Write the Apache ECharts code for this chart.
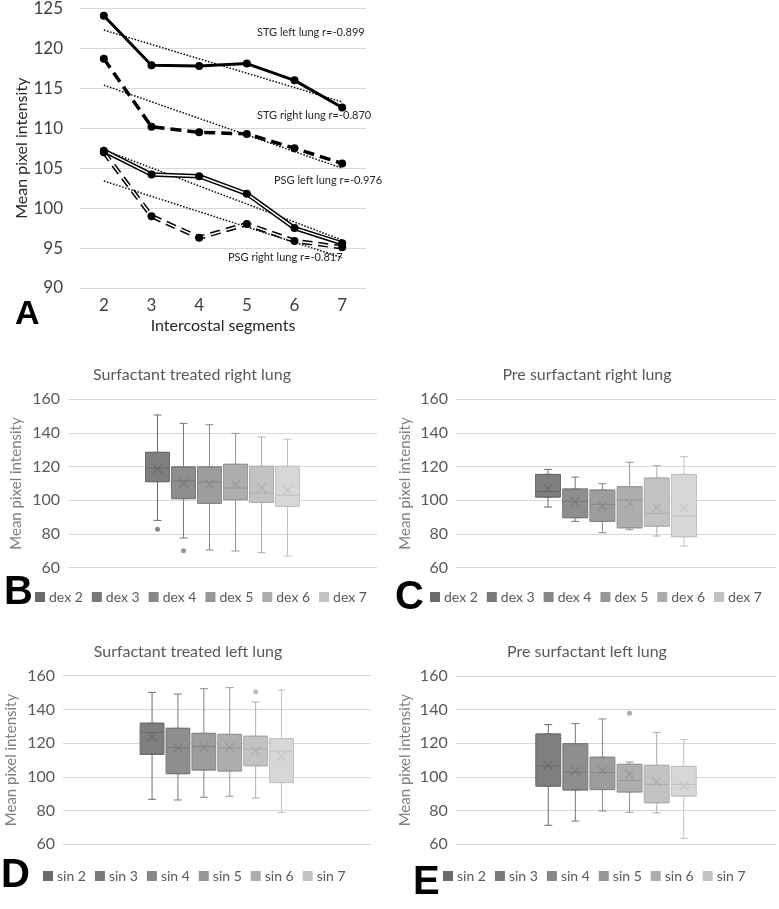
<!DOCTYPE html>
<html><head><meta charset="utf-8">
<script src="https://cdn.jsdelivr.net/npm/echarts@6/dist/echarts.min.js"></script>
<style>html,body{margin:0;padding:0;background:#fff}#c{width:779px;height:909px}</style>
</head><body><div id="c"></div>
<script>
// ---------- Panel A data ----------
const segments = ['2', '3', '4', '5', '6', '7'];
const stgLeft  = [124.1, 117.9, 117.8, 118.1, 116.0, 112.6];
const stgRight = [118.7, 110.2, 109.5, 109.3, 107.5, 105.6];
const psgLeft  = [107.2, 104.2, 104.0, 101.8, 97.5, 95.6];
const psgRight = [107.0, 99.0, 96.3, 98.0, 95.9, 95.1];
// linear trend values at segment 2 and segment 7
const stgLeftTrend  = [122.3, 113.3];
const stgRightTrend = [115.4, 105.0];
const psgLeftTrend  = [107.3, 96.0];
const psgRightTrend = [103.4, 93.8];
const trendLabels = ['STG left lung r=-0.899', 'STG right lung r=-0.870', 'PSG left lung r=-0.976', 'PSG right lung r=-0.817'];

// ---------- Box panels data: [min, Q1, median, Q3, max] ----------
const dexNames = ['dex 2', 'dex 3', 'dex 4', 'dex 5', 'dex 6', 'dex 7'];
const sinNames = ['sin 2', 'sin 3', 'sin 4', 'sin 5', 'sin 6', 'sin 7'];

const stRightBox = [[88.1, 111.1, 119.2, 128.5, 150.7], [77.6, 101.0, 111.5, 119.8, 145.7], [70.5, 98.2, 110.9, 119.8, 144.9],
                    [69.9, 100.4, 107.3, 121.4, 139.8], [68.9, 98.8, 104.3, 120.2, 137.6], [66.9, 96.4, 103.0, 120.2, 136.2]];
const stRightMean = [118.6, 110.1, 109.5, 109.5, 107.5, 105.9];
const stRightOutliers = [[0, 82.9], [1, 70.0]];

const preRightBox = [[96.0, 102.0, 105.3, 115.4, 118.4], [87.5, 89.7, 99.4, 106.7, 113.8], [80.8, 87.5, 97.6, 106.1, 109.9],
                     [82.5, 83.7, 100.2, 108.1, 122.6], [78.8, 84.7, 92.3, 113.2, 120.6], [72.8, 78.4, 90.7, 115.4, 125.9]];
const preRightMean = [107.1, 99.2, 96.6, 98.2, 95.8, 95.6];
const preRightOutliers = [];

const stLeftBox = [[86.7, 113.4, 126.4, 131.8, 150.1], [86.3, 101.9, 117.3, 128.8, 149.1], [87.9, 104.1, 117.9, 125.8, 152.3],
                   [88.5, 103.5, 117.1, 125.2, 152.9], [87.5, 106.6, 116.5, 124.1, 144.4], [78.8, 96.6, 115.2, 122.7, 151.5]];
const stLeftMean = [123.6, 117.3, 117.6, 117.6, 115.5, 112.0];
const stLeftOutliers = [[4, 150.5]];

const preLeftBox = [[71.3, 94.6, 106.5, 125.5, 131.1], [73.8, 92.3, 102.8, 119.8, 131.7], [79.8, 92.5, 102.6, 111.7, 134.5],
                    [79.0, 91.1, 98.0, 107.5, 108.9], [78.6, 84.7, 95.6, 106.9, 126.5], [63.5, 88.7, 95.6, 106.3, 122.2]];
const preLeftMean = [106.9, 103.6, 103.8, 101.6, 97.0, 94.8];
const preLeftOutliers = [[3, 137.8]];

const boxYTicks = { min: 60, max: 160, interval: 20 };

// ---------- styling ----------
const FONT = 'Lato';
const fills   = ['#7f7f7f', '#8e8e8e', '#9d9d9d', '#aeaeae', '#c3c3c3', '#d7d7d7'];
const borders = ['#6a6a6a', '#787878', '#878787', '#979797', '#adadad', '#c2c2c2'];
const GRIDC = '#d9d9d9';

const option = { animation: false, grid: [], xAxis: [], yAxis: [], series: [], legend: [], graphic: [] };

// ---------- Panel A ----------
option.grid.push({ left: 80, top: 8, width: 286, height: 280 });
option.xAxis.push({
  type: 'category', gridIndex: 0, data: segments, boundaryGap: true,
  axisLine: { show: false }, axisTick: { show: false },
  axisLabel: { fontSize: 17, color: '#404040', margin: 9, fontFamily: FONT },
  name: 'Intercostal segments', nameLocation: 'middle', nameGap: 30,
  nameTextStyle: { fontSize: 16, color: '#262626', fontFamily: FONT }
});
option.yAxis.push({
  type: 'value', gridIndex: 0, min: 90, max: 125, interval: 5,
  axisLine: { show: false }, axisTick: { show: false },
  axisLabel: { fontSize: 17, color: '#404040', margin: 17, fontFamily: FONT },
  splitLine: { lineStyle: { color: GRIDC, width: 1 } },
  name: 'Mean pixel intensity', nameLocation: 'middle', nameGap: 47,
  nameTextStyle: { fontSize: 16, color: '#262626', fontFamily: FONT }
});
function trendSeries(vals) {
  return { type: 'line', xAxisIndex: 0, yAxisIndex: 0, data: [[segments[0], vals[0]], [segments[5], vals[1]]],
    symbol: 'none', lineStyle: { color: '#111', width: 1.5, type: [1.6, 1.6] }, z: 2, silent: true };
}
option.series.push(trendSeries(stgLeftTrend), trendSeries(stgRightTrend), trendSeries(psgLeftTrend), trendSeries(psgRightTrend));
const dot = { symbol: 'circle', symbolSize: 8, itemStyle: { color: '#000' } };
option.series.push(Object.assign({ type: 'line', name: 'STG left', data: stgLeft, lineStyle: { color: '#000', width: 3 }, z: 4 }, dot));
option.series.push(Object.assign({ type: 'line', name: 'STG right', data: stgRight, lineStyle: { color: '#000', width: 3.5, type: [11, 6] }, z: 4 }, dot));
option.series.push({ type: 'line', data: psgLeft, symbol: 'none', lineStyle: { color: '#000', width: 4.5 }, z: 3 });
option.series.push(Object.assign({ type: 'line', name: 'PSG left', data: psgLeft, lineStyle: { color: '#fff', width: 1.5 }, z: 4 }, dot));
option.series.push({ type: 'line', data: psgRight, symbol: 'none', lineStyle: { color: '#000', width: 4.5, type: [10, 6] }, z: 3 });
option.series.push(Object.assign({ type: 'line', name: 'PSG right', data: psgRight, lineStyle: { color: '#fff', width: 1.5, type: [10, 6] }, z: 4 }, dot));

const trendLabelPos = [[257, 32], [257, 115], [274, 180], [228, 257]];
trendLabels.forEach((t, i) => option.graphic.push({ type: 'text', x: trendLabelPos[i][0], y: trendLabelPos[i][1], z: 10,
  style: { text: t, font: '11px ' + FONT, fill: '#262626', verticalAlign: 'middle', align: 'left' } }));
option.graphic.push({ type: 'text', x: 15, y: 315,
  style: { text: 'A', font: 'bold 34px "Liberation Sans"', fill: '#000', align: 'left', verticalAlign: 'middle' } });

// ---------- Box panels ----------
const panels = [
  { title: 'Surfactant treated right lung', names: dexNames, box: stRightBox, mean: stRightMean, out: stRightOutliers,
    left: 68, top: 399.3, width: 309, height: 168.4, pitch: 26, titleX: 192, titleY: 375, nameGap: 44, legendX: 35, legendY: 598,
    letter: 'B', letterX: 4, letterY: 593 },
  { title: 'Pre surfactant right lung', names: dexNames, box: preRightBox, mean: preRightMean, out: preRightOutliers,
    left: 456, top: 399.3, width: 320, height: 168.4, pitch: 27.2, titleX: 587, titleY: 375, nameGap: 43, legendX: 430, legendY: 598,
    letter: 'C', letterX: 395, letterY: 598 },
  { title: 'Surfactant treated left lung', names: sinNames, box: stLeftBox, mean: stLeftMean, out: stLeftOutliers,
    left: 63, top: 675.7, width: 307.6, height: 168.6, pitch: 25.9, titleX: 188, titleY: 652, nameGap: 44, legendX: 43, legendY: 877,
    letter: 'D', letterX: 1, letterY: 876 },
  { title: 'Pre surfactant left lung', names: sinNames, box: preLeftBox, mean: preLeftMean, out: preLeftOutliers,
    left: 455.7, top: 676, width: 320.6, height: 168.3, pitch: 27.1, titleX: 587, titleY: 652, nameGap: 43, legendX: 443, legendY: 877,
    letter: 'E', letterX: 413, letterY: 883 }
];

panels.forEach(p => {
  const gi = option.grid.length;
  option.grid.push({ left: p.left, top: p.top, width: p.width, height: p.height });
  option.xAxis.push({ type: 'category', gridIndex: gi, data: [''], show: false });
  option.yAxis.push({
    type: 'value', gridIndex: gi, min: boxYTicks.min, max: boxYTicks.max, interval: boxYTicks.interval,
    axisLine: { show: false }, axisTick: { show: false },
    axisLabel: { fontSize: 16, color: '#595959', margin: 8, fontFamily: FONT },
    splitLine: { lineStyle: { color: GRIDC, width: 1 } },
    name: 'Mean pixel intensity', nameLocation: 'middle', nameGap: p.nameGap,
    nameTextStyle: { fontSize: 15, color: '#808080', fontFamily: FONT }
  });
  option.graphic.push({ type: 'text', x: p.titleX, y: p.titleY,
    style: { text: p.title, font: '16px ' + FONT, fill: '#595959', align: 'center', verticalAlign: 'middle' } });
  option.graphic.push({ type: 'text', x: p.letterX, y: p.letterY,
    style: { text: p.letter, font: 'bold 40px "Liberation Sans"', fill: '#000', align: 'left', verticalAlign: 'middle' } });
  option.legend.push({ left: p.legendX, top: p.legendY - 8, data: p.names, icon: 'rect', itemWidth: 8, itemHeight: 8,
    itemGap: 9, padding: 0, selectedMode: false, textStyle: { fontSize: 14, color: '#595959', fontFamily: FONT } });

  p.names.forEach((nm, k) => {
    const cx = p.left + p.width / 2 + (k - 2.5) * p.pitch;
    const g = option.grid.length;
    option.grid.push({ left: cx - p.pitch / 2, top: p.top, width: p.pitch, height: p.height });
    const xw = option.xAxis.length;
    option.xAxis.push({ type: 'category', gridIndex: g, data: [nm], show: false });
    const xn = option.xAxis.length;
    option.xAxis.push({ type: 'category', gridIndex: g, data: [nm], show: false });
    const yi = option.yAxis.length;
    option.yAxis.push({ type: 'value', gridIndex: g, min: boxYTicks.min, max: boxYTicks.max, show: false });
    const b = p.box[k];
    const st = { color: fills[k], borderColor: borders[k], borderWidth: 1 };
    // whiskers with narrow caps
    option.series.push({ type: 'boxplot', name: nm, xAxisIndex: xn, yAxisIndex: yi, data: [b],
      boxWidth: [8, 8], itemStyle: st, z: 2, silent: true });
    // box (Q1..Q3) with median
    option.series.push({ type: 'boxplot', name: nm, xAxisIndex: xw, yAxisIndex: yi, data: [[b[1], b[1], b[2], b[3], b[3]]],
      boxWidth: [p.pitch * 0.92, p.pitch * 0.92], itemStyle: st, z: 3, silent: true });
    option.series.push({ type: 'scatter', xAxisIndex: xw, yAxisIndex: yi, data: [[0, p.mean[k]]],
      symbol: 'path://M0,0L10,10M10,0L0,10', symbolSize: 9,
      itemStyle: { color: 'rgba(0,0,0,0)', borderColor: borders[k], borderWidth: 1.3 }, z: 4, silent: true });
    const outs = p.out.filter(o => o[0] === k).map(o => [0, o[1]]);
    if (outs.length) option.series.push({ type: 'scatter', xAxisIndex: xw, yAxisIndex: yi, data: outs,
      symbol: 'circle', symbolSize: 5, itemStyle: { color: borders[k] }, z: 4, silent: true });
  });
});

const chart = echarts.init(document.getElementById('c'), null, { renderer: 'canvas' });
chart.setOption(option);
</script></body></html>
